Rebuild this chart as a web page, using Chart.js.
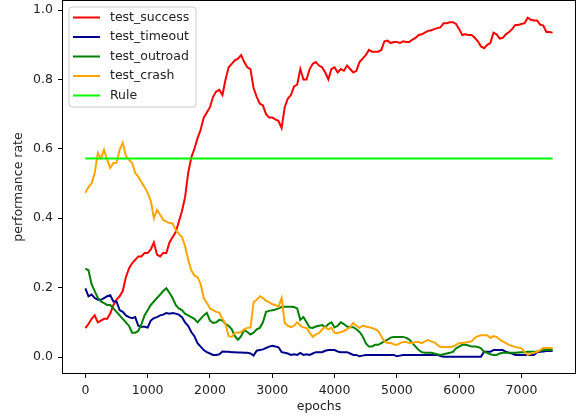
<!DOCTYPE html>
<html>
<head>
<meta charset="utf-8">
<script src="https://cdn.jsdelivr.net/npm/chart.js@4/dist/chart.umd.min.js"></script>
<style>
  html, body { margin: 0; padding: 0; background: #ffffff; }
  #wrap { width: 579px; height: 416px; }
</style>
</head>
<body>
<div id="wrap"><canvas id="c" width="579" height="416"></canvas></div>
<script>
// Training epochs at which the test rates were logged (every 50 epochs)
const epochs = [
  0, 50, 100, 150, 200, 250, 300, 350, 400, 450,
  500, 550, 600, 650, 700, 750, 800, 850, 900, 950,
  1000, 1050, 1100, 1150, 1200, 1250, 1300, 1350, 1400, 1450,
  1500, 1550, 1600, 1650, 1700, 1750, 1800, 1850, 1900, 1950,
  2000, 2050, 2100, 2150, 2200, 2250, 2300, 2350, 2400, 2450,
  2500, 2550, 2600, 2650, 2700, 2750, 2800, 2850, 2900, 2950,
  3000, 3050, 3100, 3150, 3200, 3250, 3300, 3350, 3400, 3450,
  3500, 3550, 3600, 3650, 3700, 3750, 3800, 3850, 3900, 3950,
  4000, 4050, 4100, 4150, 4200, 4250, 4300, 4350, 4400, 4450,
  4500, 4550, 4600, 4650, 4700, 4750, 4800, 4850, 4900, 4950,
  5000, 5050, 5100, 5150, 5200, 5250, 5300, 5350, 5400, 5450,
  5500, 5550, 5600, 5650, 5700, 5750, 5800, 5850, 5900, 5950,
  6000, 6050, 6100, 6150, 6200, 6250, 6300, 6350, 6400, 6450,
  6500, 6550, 6600, 6650, 6700, 6750, 6800, 6850, 6900, 6950,
  7000, 7050, 7100, 7150, 7200, 7250, 7300, 7350, 7400, 7450,
  7500
];

const testSuccess = [
  0.083, 0.095, 0.11, 0.12, 0.10, 0.105, 0.11, 0.11, 0.125, 0.15,
  0.165, 0.175, 0.19, 0.23, 0.255, 0.27, 0.28, 0.29, 0.29, 0.30,
  0.30, 0.31, 0.33, 0.295, 0.29, 0.30, 0.30, 0.33, 0.345, 0.36,
  0.39, 0.42, 0.46, 0.53, 0.575, 0.60, 0.63, 0.655, 0.69, 0.705,
  0.72, 0.75, 0.765, 0.77, 0.755, 0.80, 0.835, 0.845, 0.855, 0.86,
  0.87, 0.85, 0.835, 0.83, 0.775, 0.75, 0.73, 0.725, 0.70, 0.69,
  0.69, 0.685, 0.68, 0.66, 0.72, 0.745, 0.755, 0.78, 0.785, 0.83,
  0.80, 0.80, 0.83, 0.845, 0.85, 0.84, 0.835, 0.82, 0.80, 0.83,
  0.835, 0.82, 0.83, 0.825, 0.84, 0.83, 0.82, 0.825, 0.85, 0.86,
  0.87, 0.885, 0.88, 0.88, 0.88, 0.885, 0.91, 0.912, 0.905, 0.908,
  0.908, 0.905, 0.91, 0.908, 0.908, 0.915, 0.92, 0.928, 0.93, 0.935,
  0.94, 0.942, 0.945, 0.948, 0.95, 0.962, 0.962, 0.965, 0.965, 0.96,
  0.945, 0.928, 0.93, 0.928, 0.928, 0.92, 0.91, 0.895, 0.89, 0.90,
  0.905, 0.935, 0.93, 0.918, 0.92, 0.93, 0.937, 0.945, 0.957, 0.957,
  0.96, 0.962, 0.978, 0.972, 0.97, 0.97, 0.958, 0.955, 0.937, 0.937,
  0.935
];

const testTimeout = [
  0.198, 0.175, 0.18, 0.17, 0.165, 0.165, 0.17, 0.175, 0.178, 0.16,
  0.16, 0.135, 0.13, 0.12, 0.115, 0.112, 0.115, 0.09, 0.087, 0.087,
  0.085, 0.105, 0.112, 0.115, 0.12, 0.122, 0.127, 0.125, 0.127, 0.125,
  0.122, 0.115, 0.10, 0.09, 0.072, 0.06, 0.04, 0.03, 0.02, 0.014,
  0.01, 0.006, 0.006, 0.008, 0.016, 0.015, 0.015, 0.014, 0.014, 0.013,
  0.013, 0.012, 0.012, 0.01, 0.004, 0.018, 0.02, 0.022, 0.026, 0.03,
  0.032, 0.03, 0.028, 0.014, 0.012, 0.01, 0.006, 0.008, 0.006, 0.012,
  0.006, 0.008, 0.006, 0.01, 0.014, 0.014, 0.014, 0.018, 0.02, 0.02,
  0.02, 0.016, 0.014, 0.014, 0.014, 0.01, 0.006, 0.006, 0.002, 0.004,
  0.006, 0.006, 0.006, 0.006, 0.006, 0.006, 0.006, 0.006, 0.006, 0.006,
  0.002, 0.004, 0.006, 0.006, 0.006, 0.006, 0.006, 0.006, 0.006, 0.006,
  0.006, 0.006, 0.006, 0.006, 0.003, 0.001, 0.001, 0.001, 0.001, 0.001,
  0.001, 0.001, 0.001, 0.001, 0.001, 0.001, 0.001, 0.001, 0.015, 0.015,
  0.015, 0.02, 0.02, 0.02, 0.02, 0.015, 0.012, 0.01, 0.006, 0.006,
  0.006, 0.006, 0.006, 0.006, 0.006, 0.014, 0.015, 0.016, 0.017, 0.017,
  0.018
];

const testOutroad = [
  0.255, 0.25, 0.21, 0.19, 0.17, 0.16, 0.155, 0.15, 0.15, 0.14,
  0.13, 0.12, 0.11, 0.10, 0.09, 0.07, 0.07, 0.075, 0.095, 0.12,
  0.135, 0.15, 0.16, 0.17, 0.18, 0.19, 0.198, 0.185, 0.17, 0.15,
  0.14, 0.135, 0.125, 0.12, 0.115, 0.11, 0.10, 0.11, 0.12, 0.127,
  0.105, 0.098, 0.10, 0.107, 0.105, 0.095, 0.09, 0.08, 0.06, 0.05,
  0.06, 0.078, 0.072, 0.065, 0.07, 0.08, 0.084, 0.10, 0.13, 0.133,
  0.135, 0.137, 0.14, 0.144, 0.145, 0.145, 0.145, 0.144, 0.14, 0.107,
  0.115, 0.10, 0.085, 0.084, 0.088, 0.09, 0.092, 0.086, 0.095, 0.10,
  0.085, 0.09, 0.10, 0.095, 0.088, 0.086, 0.086, 0.08, 0.072, 0.06,
  0.04, 0.03, 0.03, 0.035, 0.035, 0.04, 0.045, 0.05, 0.056, 0.058,
  0.058, 0.058, 0.058, 0.055, 0.05, 0.04, 0.03, 0.02, 0.014, 0.012,
  0.012, 0.012, 0.01, 0.008, 0.006, 0.008, 0.01, 0.012, 0.015, 0.025,
  0.03, 0.035, 0.035, 0.033, 0.03, 0.03, 0.029, 0.025, 0.015, 0.012,
  0.008, 0.006, 0.006, 0.01, 0.012, 0.012, 0.012, 0.012, 0.012, 0.013,
  0.014, 0.014, 0.015, 0.015, 0.015, 0.016, 0.018, 0.02, 0.02, 0.02,
  0.02
];

const testCrash = [
  0.473, 0.49, 0.50, 0.53, 0.588, 0.573, 0.597, 0.568, 0.545, 0.559,
  0.56, 0.597, 0.617, 0.58, 0.568, 0.56, 0.53, 0.52, 0.504, 0.49,
  0.473, 0.45, 0.40, 0.424, 0.41, 0.395, 0.39, 0.386, 0.385, 0.366,
  0.355, 0.346, 0.32, 0.28, 0.25, 0.235, 0.23, 0.21, 0.17, 0.156,
  0.14, 0.135, 0.13, 0.128, 0.11, 0.095, 0.06, 0.058, 0.07, 0.07,
  0.072, 0.08, 0.084, 0.085, 0.158, 0.165, 0.175, 0.17, 0.162, 0.158,
  0.152, 0.15, 0.145, 0.17, 0.098, 0.09, 0.086, 0.09, 0.10, 0.09,
  0.085, 0.084, 0.07, 0.058, 0.065, 0.069, 0.08, 0.086, 0.08, 0.084,
  0.07, 0.069, 0.072, 0.075, 0.08, 0.086, 0.098, 0.09, 0.084, 0.09,
  0.088, 0.086, 0.084, 0.08, 0.075, 0.06, 0.045, 0.04, 0.04, 0.037,
  0.035, 0.04, 0.043, 0.043, 0.04, 0.04, 0.043, 0.043, 0.04, 0.045,
  0.049, 0.045, 0.043, 0.035, 0.029, 0.029, 0.029, 0.029, 0.03, 0.035,
  0.04, 0.04, 0.042, 0.043, 0.045, 0.055, 0.06, 0.063, 0.063, 0.063,
  0.055, 0.06, 0.058, 0.05, 0.045, 0.04, 0.035, 0.032, 0.029, 0.027,
  0.025, 0.015, 0.006, 0.01, 0.012, 0.015, 0.02, 0.026, 0.026, 0.026,
  0.026
];

// Rule-based baseline, constant over the run
const ruleEpochs = [0, 7500];
const ruleValues = [0.572, 0.572];

const xTicks = [0, 1000, 2000, 3000, 4000, 5000, 6000, 7000];
const yTicks = [0.0, 0.2, 0.4, 0.6, 0.8, 1.0];

const FONT = 'DejaVu Sans';

function pairs(xs, ys) {
  return xs.map((x, i) => ({ x: x, y: ys[i] }));
}

function lineSet(label, xs, ys, color, order) {
  return {
    label: label,
    data: pairs(xs, ys),
    borderColor: color,
    backgroundColor: color,
    borderWidth: 2,
    pointRadius: 0,
    tension: 0,
    fill: false,
    order: order
  };
}

// Axes frame drawn above the lines (all four sides)
const framePlugin = {
  id: 'frame',
  afterDatasetsDraw(chart) {
    const { ctx, chartArea: a } = chart;
    ctx.save();
    ctx.strokeStyle = '#000';
    ctx.lineWidth = 1;
    ctx.strokeRect(a.left + 0.5, a.top + 0.5, a.right - a.left - 1, a.bottom - a.top - 1);
    ctx.restore();
  }
};

// Legend box in the upper-left corner of the plot area
const legendBoxPlugin = {
  id: 'legendBox',
  afterDraw(chart) {
    const { ctx, chartArea: a } = chart;
    const x0 = a.left + 7, y0 = a.top + 7, w = 127, h = 100, r = 3;
    ctx.save();
    ctx.beginPath();
    ctx.moveTo(x0 + r, y0);
    ctx.lineTo(x0 + w - r, y0);
    ctx.arcTo(x0 + w, y0, x0 + w, y0 + r, r);
    ctx.lineTo(x0 + w, y0 + h - r);
    ctx.arcTo(x0 + w, y0 + h, x0 + w - r, y0 + h, r);
    ctx.lineTo(x0 + r, y0 + h);
    ctx.arcTo(x0, y0 + h, x0, y0 + h - r, r);
    ctx.lineTo(x0, y0 + r);
    ctx.arcTo(x0, y0, x0 + r, y0, r);
    ctx.closePath();
    ctx.fillStyle = 'rgba(255,255,255,0.8)';
    ctx.fill();
    ctx.strokeStyle = '#cccccc';
    ctx.lineWidth = 1;
    ctx.stroke();

    ctx.font = '12.5px "' + FONT + '"';
    ctx.textBaseline = 'middle';
    ctx.textAlign = 'left';
    chart.data.datasets.forEach((ds, i) => {
      const y = y0 + 10.5 + i * 19.5;
      ctx.strokeStyle = ds.borderColor;
      ctx.lineWidth = 2;
      ctx.beginPath();
      ctx.moveTo(x0 + 4, y);
      ctx.lineTo(x0 + 31, y);
      ctx.stroke();
      ctx.fillStyle = '#222';
      ctx.fillText(ds.label, x0 + 41, y);
    });
    ctx.restore();
  }
};

new Chart(document.getElementById('c'), {
  type: 'line',
  data: {
    datasets: [
      lineSet('test_success', epochs, testSuccess, '#ff0000', 4),
      lineSet('test_timeout', epochs, testTimeout, '#00008b', 3),
      lineSet('test_outroad', epochs, testOutroad, '#008000', 2),
      lineSet('test_crash', epochs, testCrash, '#ffa500', 1),
      lineSet('Rule', ruleEpochs, ruleValues, '#00ff00', 0)
    ]
  },
  options: {
    responsive: false,
    animation: false,
    devicePixelRatio: 1,
    layout: { padding: { left: 0, right: 3, top: 0, bottom: 0 } },
    plugins: {
      legend: { display: false },
      tooltip: { enabled: false }
    },
    scales: {
      x: {
        type: 'linear',
        min: -375,
        max: 7875,
        afterBuildTicks(scale) {
          scale.ticks = xTicks.map(v => ({ value: v }));
        },
        afterFit(scale) {
          scale.height = 42;
          scale.paddingLeft = 0;
          scale.paddingRight = 0;
        },
        ticks: {
          autoSkip: false,
          maxRotation: 0,
          padding: 5,
          color: '#222',
          font: { family: FONT, size: 12.5 },
          callback: v => String(v)
        },
        grid: {
          display: true,
          drawOnChartArea: false,
          drawTicks: true,
          tickLength: 4,
          color: '#000'
        },
        border: { display: false },
        title: {
          display: true,
          text: 'epochs',
          color: '#222',
          font: { family: FONT, size: 12.5 },
          padding: { top: 0, bottom: 2 }
        }
      },
      y: {
        type: 'linear',
        min: -0.049,
        max: 1.029,
        afterBuildTicks(scale) {
          scale.ticks = yTicks.map(v => ({ value: v }));
        },
        afterFit(scale) {
          scale.width = 62;
          scale.paddingTop = 0;
          scale.paddingBottom = 0;
        },
        ticks: {
          autoSkip: false,
          padding: 5,
          color: '#222',
          font: { family: FONT, size: 12.5 },
          callback: v => Number(v).toFixed(1)
        },
        grid: {
          display: true,
          drawOnChartArea: false,
          drawTicks: true,
          tickLength: 4,
          color: '#000'
        },
        border: { display: false },
        title: {
          display: true,
          text: 'performance rate',
          color: '#222',
          font: { family: FONT, size: 12.5 },
          padding: { top: 11, bottom: 0 }
        }
      }
    }
  },
  plugins: [framePlugin, legendBoxPlugin]
});
</script>
</body>
</html>
